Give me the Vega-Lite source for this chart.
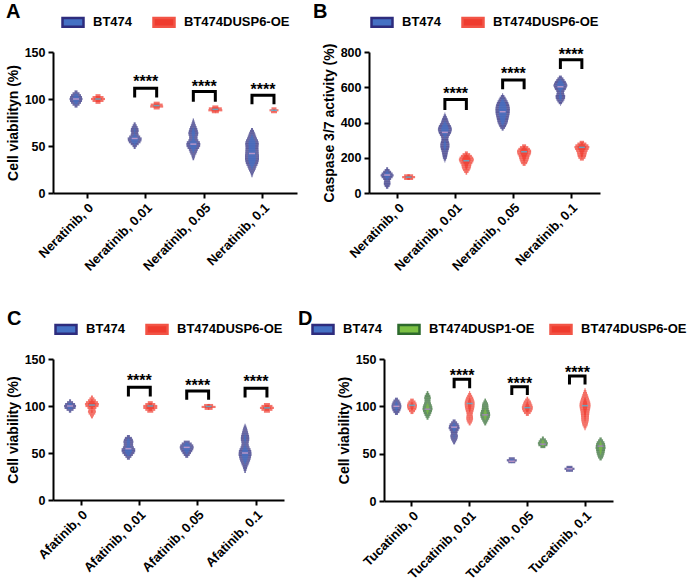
{
  "$schema": "https://vega.github.io/schema/vega-lite/v6.json",
  "padding": {"left": 6, "top": 2, "right": 0, "bottom": 0},
  "config": {
    "font": "Liberation Sans",
    "view": {"stroke": null},
    "axis": {"domainColor": "black", "domainWidth": 2, "tickColor": "black", "tickWidth": 2, "tickSize": 5, "labelColor": "black", "labelFontWeight": "bold", "labelFontSize": 12.5, "titleFontWeight": "bold", "titleFontSize": 14, "titleColor": "black", "grid": false, "labelFont": "Liberation Sans", "titleFont": "Liberation Sans"},
    "axisX": {"labelAngle": -45, "labelFontSize": 13, "labelPadding": 3},
    "axisY": {"labelPadding": 3, "titlePadding": 4},
    "legend": {"orient": "top", "direction": "horizontal", "labelFontSize": 13, "labelFontWeight": "bold", "labelColor": "black", "labelFont": "Liberation Sans", "symbolType": "M-1,-0.42H1V0.42H-1Z", "symbolSize": 441, "symbolStrokeWidth": 2.5, "columnPadding": 15, "labelOffset": 8, "offset": 20, "layout": {"top": {"anchor": "middle"}}},
    "tick": {"thickness": 2.2},
    "title": {"fontSize": 20, "fontWeight": "bold", "anchor": "start", "frame": "group", "color": "black", "font": "Liberation Sans"}
  },
  "datasets": {
    "vA": [
      {"c": "0", "g": "BT474", "y": [92,94,96,98,100,102,104,106,108], "d": [0.15,0.35,0.5,0.6,0.65,0.6,0.5,0.35,0.15]},
      {"c": "0", "g": "BT474DUSP6-OE", "y": [96,98,100,102,104], "d": [0.25,0.55,0.7,0.55,0.25]},
      {"c": "0.01", "g": "BT474", "y": [48,50,52,54,56,58,60,62,64,66,68,70,72,74], "d": [0.1,0.22,0.4,0.58,0.68,0.7,0.55,0.4,0.35,0.4,0.38,0.3,0.2,0.1]},
      {"c": "0.01", "g": "BT474DUSP6-OE", "y": [90,92,94,96], "d": [0.3,0.65,0.6,0.3]},
      {"c": "0.05", "g": "BT474", "y": [36,38,40,42,44,46,48,50,52,54,56,58,60,62,64,66,68,70,72,74,76,78], "d": [0.08,0.15,0.2,0.3,0.38,0.45,0.58,0.68,0.7,0.65,0.5,0.42,0.42,0.48,0.5,0.45,0.4,0.33,0.25,0.18,0.12,0.06]},
      {"c": "0.05", "g": "BT474DUSP6-OE", "y": [86,88,90,92], "d": [0.35,0.7,0.65,0.3]},
      {"c": "0.1", "g": "BT474", "y": [18,20,22,24,26,28,30,32,34,36,38,40,42,44,46,48,50,52,54,56,58,60,62,64,66,68], "d": [0.06,0.12,0.2,0.3,0.38,0.45,0.55,0.62,0.67,0.7,0.7,0.7,0.68,0.67,0.66,0.65,0.66,0.68,0.66,0.6,0.5,0.42,0.35,0.28,0.2,0.1]},
      {"c": "0.1", "g": "BT474DUSP6-OE", "y": [86,88,90], "d": [0.3,0.45,0.25]}
    ],
    "mA": [
      {"c": "0", "g": "BT474", "y": 100}, {"c": "0", "g": "BT474DUSP6-OE", "y": 100},
      {"c": "0.01", "g": "BT474", "y": 58}, {"c": "0.01", "g": "BT474DUSP6-OE", "y": 93},
      {"c": "0.05", "g": "BT474", "y": 52}, {"c": "0.05", "g": "BT474DUSP6-OE", "y": 89},
      {"c": "0.1", "g": "BT474", "y": 42}, {"c": "0.1", "g": "BT474DUSP6-OE", "y": 88}
    ],
    "bA": [
      {"c": "0.01", "g": ["BT474","BT474","BT474DUSP6-OE","BT474DUSP6-OE"], "y": [101.5,111.5,111.5,101.5], "o": [1,2,3,4]},
      {"c": "0.05", "g": ["BT474","BT474","BT474DUSP6-OE","BT474DUSP6-OE"], "y": [97,108,108,97], "o": [1,2,3,4]},
      {"c": "0.1", "g": ["BT474","BT474","BT474DUSP6-OE","BT474DUSP6-OE"], "y": [94.5,104,104,94.5], "o": [1,2,3,4]}
    ],
    "sA": [
      {"c": "0.01", "y": 121, "t": "****"}, {"c": "0.05", "y": 116, "t": "****"}, {"c": "0.1", "y": 113, "t": "****"}
    ],
    "vB": [
      {"c": "0", "g": "BT474", "y": [30,40,50,60,70,80,90,100,110,120,130,140], "d": [0.12,0.25,0.33,0.33,0.3,0.4,0.55,0.65,0.55,0.4,0.25,0.1]},
      {"c": "0", "g": "BT474DUSP6-OE", "y": [80,90,100], "d": [0.45,0.65,0.45]},
      {"c": "0.01", "g": "BT474", "y": [180,190,200,210,220,230,240,250,260,270,280,290,300,310,320,330,340,350,360,370,380,390,400,410,420,430,440,450], "d": [0.04,0.12,0.2,0.23,0.27,0.3,0.35,0.4,0.45,0.46,0.45,0.4,0.35,0.35,0.4,0.5,0.6,0.66,0.7,0.67,0.6,0.5,0.4,0.34,0.28,0.2,0.12,0.04]},
      {"c": "0.01", "g": "BT474DUSP6-OE", "y": [110,120,130,140,150,160,170,180,190,200,210,220,230], "d": [0.08,0.22,0.33,0.42,0.47,0.5,0.6,0.7,0.75,0.68,0.55,0.38,0.15]},
      {"c": "0.05", "g": "BT474", "y": [360,370,380,390,400,410,420,430,440,450,460,470,480,490,500,510,520,530,540,550,560], "d": [0.1,0.24,0.34,0.42,0.5,0.54,0.58,0.62,0.66,0.7,0.71,0.72,0.72,0.69,0.65,0.58,0.5,0.4,0.3,0.18,0.05]},
      {"c": "0.05", "g": "BT474DUSP6-OE", "y": [160,170,180,190,200,210,220,230,240,250,260,270], "d": [0.15,0.3,0.38,0.45,0.5,0.55,0.65,0.7,0.7,0.58,0.42,0.2]},
      {"c": "0.1", "g": "BT474", "y": [500,510,520,530,540,550,560,570,580,590,600,610,620,630,640,650,660], "d": [0.03,0.17,0.3,0.4,0.47,0.48,0.4,0.36,0.42,0.55,0.63,0.7,0.64,0.55,0.42,0.3,0.15]},
      {"c": "0.1", "g": "BT474DUSP6-OE", "y": [190,200,210,220,230,240,250,260,270,280,290], "d": [0.2,0.35,0.42,0.46,0.5,0.58,0.68,0.75,0.65,0.45,0.22]}
    ],
    "mB": [
      {"c": "0", "g": "BT474", "y": 102}, {"c": "0", "g": "BT474DUSP6-OE", "y": 90},
      {"c": "0.01", "g": "BT474", "y": 344}, {"c": "0.01", "g": "BT474DUSP6-OE", "y": 183},
      {"c": "0.05", "g": "BT474", "y": 461}, {"c": "0.05", "g": "BT474DUSP6-OE", "y": 234},
      {"c": "0.1", "g": "BT474", "y": 603}, {"c": "0.1", "g": "BT474DUSP6-OE", "y": 259}
    ],
    "bB": [
      {"c": "0.01", "g": ["BT474","BT474","BT474DUSP6-OE","BT474DUSP6-OE"], "y": [471,531,531,471], "o": [1,2,3,4]},
      {"c": "0.05", "g": ["BT474","BT474","BT474DUSP6-OE","BT474DUSP6-OE"], "y": [588,641,641,588], "o": [1,2,3,4]},
      {"c": "0.1", "g": ["BT474","BT474","BT474DUSP6-OE","BT474DUSP6-OE"], "y": [703,756,756,703], "o": [1,2,3,4]}
    ],
    "sB": [
      {"c": "0.01", "y": 580, "t": "****"}, {"c": "0.05", "y": 692, "t": "****"}, {"c": "0.1", "y": 802, "t": "****"}
    ],
    "vC": [
      {"c": "0", "g": "BT474", "y": [94,96,98,100,102,104,106], "d": [0.12,0.35,0.55,0.6,0.5,0.3,0.1]},
      {"c": "0", "g": "BT474DUSP6-OE", "y": [88,90,92,94,96,98,100,102,104,106,108,110], "d": [0.1,0.2,0.33,0.4,0.35,0.45,0.65,0.7,0.6,0.4,0.25,0.1]},
      {"c": "0.01", "g": "BT474", "y": [44,46,48,50,52,54,56,58,60,62,64,66,68], "d": [0.15,0.3,0.45,0.6,0.68,0.68,0.55,0.47,0.47,0.5,0.45,0.35,0.15]},
      {"c": "0.01", "g": "BT474DUSP6-OE", "y": [94,96,98,100,102,104], "d": [0.3,0.5,0.7,0.7,0.5,0.25]},
      {"c": "0.05", "g": "BT474", "y": [46,48,50,52,54,56,58,60,62], "d": [0.15,0.3,0.43,0.55,0.65,0.7,0.65,0.5,0.3]},
      {"c": "0.05", "g": "BT474DUSP6-OE", "y": [97,99,101], "d": [0.4,0.7,0.45]},
      {"c": "0.1", "g": "BT474", "y": [30,32,34,36,38,40,42,44,46,48,50,52,54,56,58,60,62,64,66,68,70,72,74,76,78,80], "d": [0.08,0.14,0.2,0.26,0.35,0.42,0.5,0.56,0.6,0.65,0.64,0.62,0.55,0.45,0.38,0.35,0.38,0.42,0.42,0.4,0.35,0.3,0.25,0.2,0.13,0.05]},
      {"c": "0.1", "g": "BT474DUSP6-OE", "y": [94,96,98,100,102], "d": [0.3,0.55,0.7,0.55,0.3]}
    ],
    "mC": [
      {"c": "0", "g": "BT474", "y": 100}, {"c": "0", "g": "BT474DUSP6-OE", "y": 101},
      {"c": "0.01", "g": "BT474", "y": 54.6}, {"c": "0.01", "g": "BT474DUSP6-OE", "y": 100},
      {"c": "0.05", "g": "BT474", "y": 56}, {"c": "0.05", "g": "BT474DUSP6-OE", "y": 99.5},
      {"c": "0.1", "g": "BT474", "y": 50}, {"c": "0.1", "g": "BT474DUSP6-OE", "y": 98}
    ],
    "bC": [
      {"c": "0.01", "g": ["BT474","BT474","BT474DUSP6-OE","BT474DUSP6-OE"], "y": [110,120,120,110], "o": [1,2,3,4]},
      {"c": "0.05", "g": ["BT474","BT474","BT474DUSP6-OE","BT474DUSP6-OE"], "y": [106.7,116,116,106.7], "o": [1,2,3,4]},
      {"c": "0.1", "g": ["BT474","BT474","BT474DUSP6-OE","BT474DUSP6-OE"], "y": [109,119,119,109], "o": [1,2,3,4]}
    ],
    "sC": [
      {"c": "0.01", "y": 130, "t": "****"}, {"c": "0.05", "y": 124.7, "t": "****"}, {"c": "0.1", "y": 128.5, "t": "****"}
    ],
    "vD": [
      {"c": "0", "g": "BT474", "y": [92,94,96,98,100,102,104,106,108], "d": [0.15,0.3,0.4,0.47,0.5,0.47,0.4,0.3,0.15]},
      {"c": "0", "g": "BT474DUSP6-OE", "y": [93,95,97,99,101,103,105,107], "d": [0.15,0.3,0.42,0.48,0.5,0.45,0.35,0.18]},
      {"c": "0", "g": "BT474DUSP1-OE", "y": [87,89,91,93,95,97,99,101,103,105,107,109,111,113,115], "d": [0.1,0.2,0.3,0.38,0.45,0.5,0.48,0.43,0.35,0.3,0.3,0.33,0.28,0.18,0.08]},
      {"c": "0.01", "g": "BT474", "y": [61,63,65,67,69,71,73,75,77,79,81,83,85], "d": [0.1,0.2,0.3,0.36,0.38,0.32,0.35,0.45,0.55,0.52,0.45,0.3,0.15]},
      {"c": "0.01", "g": "BT474DUSP6-OE", "y": [81,83,85,87,89,91,93,95,97,99,101,103,105,107,109,111,113,115], "d": [0.1,0.22,0.3,0.34,0.33,0.3,0.32,0.38,0.43,0.47,0.49,0.5,0.48,0.42,0.35,0.25,0.15,0.05]},
      {"c": "0.01", "g": "BT474DUSP1-OE", "y": [81,83,85,87,89,91,93,95,97,99,101,103,105,107], "d": [0.1,0.2,0.3,0.4,0.47,0.5,0.48,0.42,0.35,0.33,0.32,0.28,0.18,0.08]},
      {"c": "0.05", "g": "BT474", "y": [41,43,45], "d": [0.35,0.5,0.3]},
      {"c": "0.05", "g": "BT474DUSP6-OE", "y": [91,93,95,97,99,101,103,105,107,109], "d": [0.15,0.33,0.45,0.53,0.55,0.5,0.42,0.35,0.22,0.08]},
      {"c": "0.05", "g": "BT474DUSP1-OE", "y": [57,59,61,63,65,67], "d": [0.25,0.45,0.5,0.42,0.3,0.1]},
      {"c": "0.1", "g": "BT474", "y": [32,34,36], "d": [0.35,0.5,0.3]},
      {"c": "0.1", "g": "BT474DUSP6-OE", "y": [76,78,80,82,84,86,88,90,92,94,96,98,100,102,104,106,108,110,112,114,116,118], "d": [0.06,0.15,0.25,0.3,0.35,0.38,0.39,0.4,0.42,0.44,0.48,0.52,0.55,0.55,0.52,0.46,0.4,0.33,0.27,0.2,0.13,0.06]},
      {"c": "0.1", "g": "BT474DUSP1-OE", "y": [44,46,48,50,52,54,56,58,60,62,64,66], "d": [0.12,0.25,0.32,0.38,0.42,0.45,0.5,0.48,0.45,0.38,0.25,0.12]}
    ],
    "mD": [
      {"c": "0", "g": "BT474", "y": 100}, {"c": "0", "g": "BT474DUSP6-OE", "y": 101}, {"c": "0", "g": "BT474DUSP1-OE", "y": 97},
      {"c": "0.01", "g": "BT474", "y": 78}, {"c": "0.01", "g": "BT474DUSP6-OE", "y": 103}, {"c": "0.01", "g": "BT474DUSP1-OE", "y": 91},
      {"c": "0.05", "g": "BT474", "y": 42}, {"c": "0.05", "g": "BT474DUSP6-OE", "y": 98.6}, {"c": "0.05", "g": "BT474DUSP1-OE", "y": 60},
      {"c": "0.1", "g": "BT474", "y": 34}, {"c": "0.1", "g": "BT474DUSP6-OE", "y": 100.7}, {"c": "0.1", "g": "BT474DUSP1-OE", "y": 58}
    ],
    "bD": [
      {"c": "0.01", "g": ["BT474","BT474","BT474DUSP6-OE","BT474DUSP6-OE"], "y": [119,128.5,128.5,119], "o": [1,2,3,4]},
      {"c": "0.05", "g": ["BT474","BT474","BT474DUSP6-OE","BT474DUSP6-OE"], "y": [112,120.7,120.7,112], "o": [1,2,3,4]},
      {"c": "0.1", "g": ["BT474","BT474","BT474DUSP6-OE","BT474DUSP6-OE"], "y": [123,132,132,123], "o": [1,2,3,4]}
    ],
    "sD": [
      {"c": "0.01", "g": "BT474", "y": 135, "t": "****"}, {"c": "0.05", "g": "BT474", "y": 127, "t": "****"}, {"c": "0.1", "g": "BT474", "y": 138.4, "t": "****"}
    ]
  },
  "spacing": 35,
  "resolve": {"scale": {"color": "independent", "fill": "independent", "stroke": "independent", "size": "independent", "xOffset": "independent"}, "legend": {"color": "independent", "fill": "independent", "stroke": "independent", "size": "independent"}},
  "vconcat": [
    {
      "spacing": 16,
      "resolve": {"scale": {"color": "independent", "fill": "independent", "stroke": "independent", "size": "independent", "xOffset": "independent"}, "legend": {"color": "independent", "fill": "independent", "stroke": "independent", "size": "independent"}},
      "hconcat": [
        {
          "width": 244, "height": 141,
          "title": {"text": "A", "dx": -47, "dy": 16},
          "encoding": {
            "x": {"field": "c", "type": "nominal", "sort": ["0","0.01","0.05","0.1"], "scale": {"paddingInner": 0.1, "paddingOuter": 0.13}, "axis": {"labelExpr": "'Neratinib, ' + datum.value", "title": null}},
            "y": {"field": "y", "type": "quantitative", "scale": {"domain": [0,150]}, "axis": {"values": [0,50,100,150], "title": "Cell viabilityn (%)"}}
          },
          "resolve": {"scale": {"size": "independent"}},
          "layer": [
            {"data": {"name": "mA"}, "transform": [{"filter": "false"}], "mark": {"type": "bar", "strokeWidth": 2.5},
             "encoding": {"xOffset": {"field": "g", "type": "nominal", "scale": {"domain": ["BT474","BT474DUSP6-OE"], "paddingOuter": 0.2, "paddingInner": 0}},
               "fill": {"field": "g", "type": "nominal", "scale": {"domain": ["BT474","BT474DUSP6-OE"], "range": ["#4571c4","#ef3b2e"]}, "legend": {"title": null}},
               "stroke": {"field": "g", "type": "nominal", "scale": {"domain": ["BT474","BT474DUSP6-OE"], "range": ["#2e2c7d","#f25446"]}, "legend": {"title": null}}}},
            {"data": {"name": "vA"}, "transform": [{"flatten": ["y","d"]}], "mark": {"type": "tick"},
             "encoding": {"xOffset": {"field": "g", "type": "nominal"},
               "color": {"field": "g", "type": "nominal", "scale": {"domain": ["BT474","BT474DUSP6-OE"], "range": ["#2e2c7d","#ef3b2e"]}, "legend": null},
               "size": {"field": "d", "type": "quantitative", "scale": {"domain": [0,1], "range": [0,20]}, "legend": null}}},
            {"data": {"name": "vA"}, "transform": [{"flatten": ["y","d"]}], "mark": {"type": "tick"},
             "encoding": {"xOffset": {"field": "g", "type": "nominal"},
               "fill": {"field": "g", "type": "nominal", "legend": null},
               "size": {"field": "d", "type": "quantitative", "scale": {"domain": [0.325,1], "range": [0,13.5], "zero": false, "clamp": true}, "legend": null}}},
            {"data": {"name": "mA"}, "transform": [{"filter": "datum.g == 'BT474'"}], "mark": {"type": "tick", "color": "#e3a6cf", "size": 6, "thickness": 1.5},
             "encoding": {"xOffset": {"field": "g", "type": "nominal"}}},
            {"data": {"name": "mA"}, "transform": [{"filter": "datum.g == 'BT474DUSP6-OE'"}], "mark": {"type": "tick", "color": "#38c4f0", "size": 6, "thickness": 1.5},
             "encoding": {"xOffset": {"field": "g", "type": "nominal"}}},
            {"data": {"name": "bA"}, "transform": [{"flatten": ["g","y","o"]}], "mark": {"type": "line", "color": "black", "strokeWidth": 3, "strokeJoin": "miter", "strokeCap": "butt"},
             "encoding": {"xOffset": {"field": "g", "type": "nominal"}, "detail": {"field": "c"}, "order": {"field": "o", "type": "quantitative"}}},
            {"data": {"name": "sA"}, "mark": {"type": "text", "fontSize": 16, "fontWeight": "bold", "baseline": "middle", "dy": 3, "color": "black"},
             "encoding": {"text": {"field": "t"}}}
          ]
        },
        {
          "width": 231, "height": 141,
          "title": {"text": "B", "dx": -56, "dy": 16},
          "encoding": {
            "x": {"field": "c", "type": "nominal", "sort": ["0","0.01","0.05","0.1"], "scale": {"paddingInner": 0.1, "paddingOuter": 0.05}, "axis": {"labelExpr": "'Neratinib, ' + datum.value", "title": null}},
            "y": {"field": "y", "type": "quantitative", "scale": {"domain": [0,800]}, "axis": {"values": [0,200,400,600,800], "title": "Caspase 3/7 activity (%)"}}
          },
          "resolve": {"scale": {"size": "independent"}},
          "layer": [
            {"data": {"name": "mB"}, "transform": [{"filter": "false"}], "mark": {"type": "bar", "strokeWidth": 2.5},
             "encoding": {"xOffset": {"field": "g", "type": "nominal", "scale": {"domain": ["BT474","BT474DUSP6-OE"], "paddingOuter": 0.21, "paddingInner": 0}},
               "fill": {"field": "g", "type": "nominal", "scale": {"domain": ["BT474","BT474DUSP6-OE"], "range": ["#4571c4","#ef3b2e"]}, "legend": {"title": null}},
               "stroke": {"field": "g", "type": "nominal", "scale": {"domain": ["BT474","BT474DUSP6-OE"], "range": ["#2e2c7d","#f25446"]}, "legend": {"title": null}}}},
            {"data": {"name": "vB"}, "transform": [{"flatten": ["y","d"]}], "mark": {"type": "tick"},
             "encoding": {"xOffset": {"field": "g", "type": "nominal"},
               "color": {"field": "g", "type": "nominal", "scale": {"domain": ["BT474","BT474DUSP6-OE"], "range": ["#2e2c7d","#ef3b2e"]}, "legend": null},
               "size": {"field": "d", "type": "quantitative", "scale": {"domain": [0,1], "range": [0,20]}, "legend": null}}},
            {"data": {"name": "vB"}, "transform": [{"flatten": ["y","d"]}], "mark": {"type": "tick"},
             "encoding": {"xOffset": {"field": "g", "type": "nominal"},
               "fill": {"field": "g", "type": "nominal", "legend": null},
               "size": {"field": "d", "type": "quantitative", "scale": {"domain": [0.325,1], "range": [0,13.5], "zero": false, "clamp": true}, "legend": null}}},
            {"data": {"name": "mB"}, "transform": [{"filter": "datum.g == 'BT474'"}], "mark": {"type": "tick", "color": "#e3a6cf", "size": 6, "thickness": 1.5},
             "encoding": {"xOffset": {"field": "g", "type": "nominal"}}},
            {"data": {"name": "mB"}, "transform": [{"filter": "datum.g == 'BT474DUSP6-OE'"}], "mark": {"type": "tick", "color": "#38c4f0", "size": 6, "thickness": 1.5},
             "encoding": {"xOffset": {"field": "g", "type": "nominal"}}},
            {"data": {"name": "bB"}, "transform": [{"flatten": ["g","y","o"]}], "mark": {"type": "line", "color": "black", "strokeWidth": 3, "strokeJoin": "miter", "strokeCap": "butt"},
             "encoding": {"xOffset": {"field": "g", "type": "nominal"}, "detail": {"field": "c"}, "order": {"field": "o", "type": "quantitative"}}},
            {"data": {"name": "sB"}, "mark": {"type": "text", "fontSize": 16, "fontWeight": "bold", "baseline": "middle", "dy": 3, "color": "black"},
             "encoding": {"text": {"field": "t"}}}
          ]
        }
      ]
    },
    {
      "spacing": 14,
      "resolve": {"scale": {"color": "independent", "fill": "independent", "stroke": "independent", "size": "independent", "xOffset": "independent"}, "legend": {"color": "independent", "fill": "independent", "stroke": "independent", "size": "independent"}},
      "hconcat": [
        {
          "width": 231, "height": 141,
          "title": {"text": "C", "dx": -46, "dy": 16},
          "encoding": {
            "x": {"field": "c", "type": "nominal", "sort": ["0","0.01","0.05","0.1"], "scale": {"paddingInner": 0.1, "paddingOuter": 0.03}, "axis": {"labelExpr": "'Afatinib, ' + datum.value", "title": null}},
            "y": {"field": "y", "type": "quantitative", "scale": {"domain": [0,150]}, "axis": {"values": [0,50,100,150], "title": "Cell viability (%)"}}
          },
          "resolve": {"scale": {"size": "independent"}},
          "layer": [
            {"data": {"name": "mC"}, "transform": [{"filter": "false"}], "mark": {"type": "bar", "strokeWidth": 2.5},
             "encoding": {"xOffset": {"field": "g", "type": "nominal", "scale": {"domain": ["BT474","BT474DUSP6-OE"], "paddingOuter": 0.2, "paddingInner": 0}},
               "fill": {"field": "g", "type": "nominal", "scale": {"domain": ["BT474","BT474DUSP6-OE"], "range": ["#4571c4","#ef3b2e"]}, "legend": {"title": null}},
               "stroke": {"field": "g", "type": "nominal", "scale": {"domain": ["BT474","BT474DUSP6-OE"], "range": ["#2e2c7d","#f25446"]}, "legend": {"title": null}}}},
            {"data": {"name": "vC"}, "transform": [{"flatten": ["y","d"]}], "mark": {"type": "tick"},
             "encoding": {"xOffset": {"field": "g", "type": "nominal"},
               "color": {"field": "g", "type": "nominal", "scale": {"domain": ["BT474","BT474DUSP6-OE"], "range": ["#2e2c7d","#ef3b2e"]}, "legend": null},
               "size": {"field": "d", "type": "quantitative", "scale": {"domain": [0,1], "range": [0,20]}, "legend": null}}},
            {"data": {"name": "vC"}, "transform": [{"flatten": ["y","d"]}], "mark": {"type": "tick"},
             "encoding": {"xOffset": {"field": "g", "type": "nominal"},
               "fill": {"field": "g", "type": "nominal", "legend": null},
               "size": {"field": "d", "type": "quantitative", "scale": {"domain": [0.325,1], "range": [0,13.5], "zero": false, "clamp": true}, "legend": null}}},
            {"data": {"name": "mC"}, "transform": [{"filter": "datum.g == 'BT474'"}], "mark": {"type": "tick", "color": "#e3a6cf", "size": 6, "thickness": 1.5},
             "encoding": {"xOffset": {"field": "g", "type": "nominal"}}},
            {"data": {"name": "mC"}, "transform": [{"filter": "datum.g == 'BT474DUSP6-OE'"}], "mark": {"type": "tick", "color": "#38c4f0", "size": 6, "thickness": 1.5},
             "encoding": {"xOffset": {"field": "g", "type": "nominal"}}},
            {"data": {"name": "bC"}, "transform": [{"flatten": ["g","y","o"]}], "mark": {"type": "line", "color": "black", "strokeWidth": 3, "strokeJoin": "miter", "strokeCap": "butt"},
             "encoding": {"xOffset": {"field": "g", "type": "nominal"}, "detail": {"field": "c"}, "order": {"field": "o", "type": "quantitative"}}},
            {"data": {"name": "sC"}, "mark": {"type": "text", "fontSize": 16, "fontWeight": "bold", "baseline": "middle", "dy": 3, "color": "black"},
             "encoding": {"text": {"field": "t"}}}
          ]
        },
        {
          "width": 229, "height": 142,
          "title": {"text": "D", "dx": -86, "dy": 16},
          "encoding": {
            "x": {"field": "c", "type": "nominal", "sort": ["0","0.01","0.05","0.1"], "scale": {"paddingInner": 0.1, "paddingOuter": 0.035}, "axis": {"labelExpr": "'Tucatinib, ' + datum.value", "title": null}},
            "y": {"field": "y", "type": "quantitative", "scale": {"domain": [0,150]}, "axis": {"values": [0,50,100,150], "title": "Cell viability (%)"}}
          },
          "resolve": {"scale": {"size": "independent"}},
          "layer": [
            {"data": {"name": "mD"}, "transform": [{"filter": "false"}], "mark": {"type": "bar", "strokeWidth": 2.5},
             "encoding": {"xOffset": {"field": "g", "type": "nominal", "scale": {"domain": ["BT474","BT474DUSP6-OE","BT474DUSP1-OE"], "paddingOuter": 0.17, "paddingInner": 0}},
               "fill": {"field": "g", "type": "nominal", "scale": {"domain": ["BT474","BT474DUSP1-OE","BT474DUSP6-OE"], "range": ["#4571c4","#7cc144","#ef3b2e"]}, "legend": {"title": null, "columnPadding": 10}},
               "stroke": {"field": "g", "type": "nominal", "scale": {"domain": ["BT474","BT474DUSP1-OE","BT474DUSP6-OE"], "range": ["#2e2c7d","#2d6a2d","#f25446"]}, "legend": {"title": null, "columnPadding": 10}}}},
            {"data": {"name": "vD"}, "transform": [{"flatten": ["y","d"]}], "mark": {"type": "tick"},
             "encoding": {"xOffset": {"field": "g", "type": "nominal"},
               "color": {"field": "g", "type": "nominal", "scale": {"domain": ["BT474","BT474DUSP1-OE","BT474DUSP6-OE"], "range": ["#2e2c7d","#2d6a2d","#ef3b2e"]}, "legend": null},
               "size": {"field": "d", "type": "quantitative", "scale": {"domain": [0,1], "range": [0,20]}, "legend": null}}},
            {"data": {"name": "vD"}, "transform": [{"flatten": ["y","d"]}], "mark": {"type": "tick"},
             "encoding": {"xOffset": {"field": "g", "type": "nominal"},
               "fill": {"field": "g", "type": "nominal", "legend": null},
               "size": {"field": "d", "type": "quantitative", "scale": {"domain": [0.325,1], "range": [0,13.5], "zero": false, "clamp": true}, "legend": null}}},
            {"data": {"name": "mD"}, "transform": [{"filter": "datum.g == 'BT474'"}], "mark": {"type": "tick", "color": "#e3a6cf", "size": 6, "thickness": 1.5},
             "encoding": {"xOffset": {"field": "g", "type": "nominal"}}},
            {"data": {"name": "mD"}, "transform": [{"filter": "datum.g == 'BT474DUSP6-OE'"}], "mark": {"type": "tick", "color": "#38c4f0", "size": 6, "thickness": 1.5},
             "encoding": {"xOffset": {"field": "g", "type": "nominal"}}},
            {"data": {"name": "mD"}, "transform": [{"filter": "datum.g == 'BT474DUSP1-OE'"}], "mark": {"type": "tick", "color": "#b47bd8", "size": 6, "thickness": 1.5},
             "encoding": {"xOffset": {"field": "g", "type": "nominal"}}},
            {"data": {"name": "bD"}, "transform": [{"flatten": ["g","y","o"]}], "mark": {"type": "line", "color": "black", "strokeWidth": 3, "strokeJoin": "miter", "strokeCap": "butt"},
             "encoding": {"xOffset": {"field": "g", "type": "nominal"}, "detail": {"field": "c"}, "order": {"field": "o", "type": "quantitative"}}},
            {"data": {"name": "sD"}, "mark": {"type": "text", "fontSize": 16, "fontWeight": "bold", "baseline": "middle", "dy": 3, "dx": 8, "color": "black"},
             "encoding": {"xOffset": {"field": "g", "type": "nominal"}, "text": {"field": "t"}}}
          ]
        }
      ]
    }
  ]
}
